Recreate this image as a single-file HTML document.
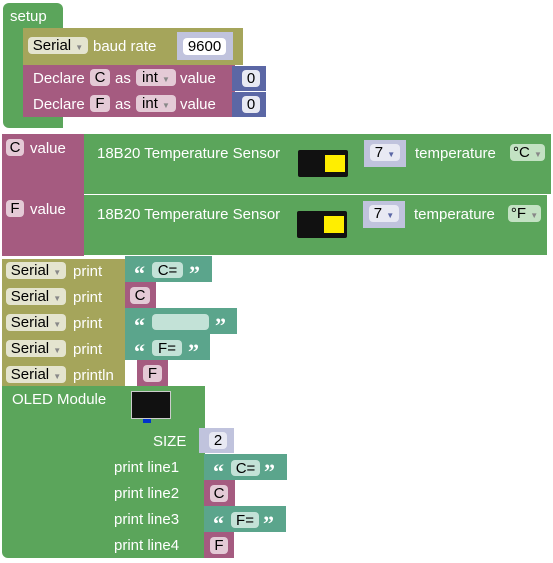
<!DOCTYPE html>
<html><head><meta charset="utf-8"><style>
body{margin:0;width:553px;height:563px;background:#fff;position:relative;overflow:hidden;font-family:"Liberation Sans",sans-serif;font-size:15px;color:#fff}
div{position:absolute;box-sizing:border-box}
.g{background:#5ba55b}.o{background:#a5a55b}.m{background:#a55b80}.n{background:#5b67a5}.t{background:#5ba58c}.ln{background:#c0c3dd}
.tx{white-space:nowrap;line-height:16px;margin-top:2px}
.q{font-family:"Liberation Serif",serif;font-size:22px;font-weight:bold;line-height:16px;white-space:nowrap}
.f{border-radius:4px;color:#000;line-height:17px;text-align:center;white-space:nowrap}
.fo{background:#e4e4cf}.fm{background:#e4cad6}.fw{background:#fff}.ft{background:#c3e2d7}.fg{background:#c3e2c3}.fn{background:#e8e9f3}
.dd{font-size:8px;color:#888}
.sensor{background:#111;border-radius:2px}
.sensor::after{content:"";position:absolute;right:3px;top:5px;width:20px;height:17px;background:#ffee00}
</style></head><body>
<!-- setup -->
<div class="g" style="left:3px;top:3px;width:60px;height:26px;border-radius:6px 6px 0 0"></div>
<div class="g" style="left:3px;top:28px;width:20px;height:92px"></div>
<div class="g" style="left:3px;top:117px;width:60px;height:11px;border-radius:0 0 0 6px"></div>
<div class="tx" style="left:10px;top:7px">setup</div>
<!-- serial baud -->
<div class="o" style="left:23px;top:28px;width:220px;height:37px"></div>
<div class="f fo" style="left:28px;top:37px;width:60px;height:17px">Serial <span class="dd">▼</span></div>
<div class="tx" style="left:93px;top:37px">baud rate</div>
<div class="ln" style="left:177px;top:32px;width:56px;height:28px"></div>
<div class="f fw" style="left:183px;top:38px;width:43px;height:17px">9600</div>
<!-- declares -->
<div class="m" style="left:23px;top:65px;width:212px;height:26px"></div>
<div class="m" style="left:23px;top:91px;width:212px;height:26px"></div>
<div class="tx" style="left:33px;top:69px">Declare</div>
<div class="f fm" style="left:90px;top:69px;width:20px;height:17px">C</div>
<div class="tx" style="left:115px;top:69px">as</div>
<div class="f fm" style="left:136px;top:69px;width:40px;height:17px">int <span class="dd">▼</span></div>
<div class="tx" style="left:180px;top:69px">value</div>
<div class="n" style="left:232px;top:66px;width:34px;height:25px"></div>
<div class="f fn" style="left:242px;top:70px;width:18px;height:17px">0</div>
<div class="tx" style="left:33px;top:95px">Declare</div>
<div class="f fm" style="left:90px;top:95px;width:20px;height:17px">F</div>
<div class="tx" style="left:115px;top:95px">as</div>
<div class="f fm" style="left:136px;top:95px;width:40px;height:17px">int <span class="dd">▼</span></div>
<div class="tx" style="left:180px;top:95px">value</div>
<div class="n" style="left:232px;top:92px;width:34px;height:25px"></div>
<div class="f fn" style="left:242px;top:96px;width:18px;height:17px">0</div>
<!-- C value -->
<div class="m" style="left:2px;top:134px;width:82px;height:61px"></div>
<div class="g" style="left:84px;top:134px;width:467px;height:60px"></div>
<div class="f fm" style="left:6px;top:139px;width:18px;height:17px">C</div>
<div class="tx" style="left:30px;top:139px">value</div>
<div class="tx" style="left:97px;top:144px">18B20 Temperature Sensor</div>
<div class="sensor" style="left:298px;top:150px;width:50px;height:27px"></div>
<div class="ln" style="left:364px;top:140px;width:42px;height:27px"></div>
<div class="f fn" style="left:370px;top:144px;width:30px;height:17px">7 <span class="dd" style="color:#5b67a5">▼</span></div>
<div class="tx" style="left:415px;top:144px">temperature</div>
<div class="f fg" style="left:510px;top:144px;width:35px;height:17px">°C <span class="dd">▼</span></div>
<!-- F value -->
<div class="m" style="left:2px;top:195px;width:82px;height:61px"></div>
<div class="g" style="left:84px;top:195px;width:463px;height:60px"></div>
<div class="f fm" style="left:6px;top:200px;width:18px;height:17px">F</div>
<div class="tx" style="left:30px;top:200px">value</div>
<div class="tx" style="left:97px;top:205px">18B20 Temperature Sensor</div>
<div class="sensor" style="left:297px;top:211px;width:50px;height:27px"></div>
<div class="ln" style="left:363px;top:201px;width:42px;height:27px"></div>
<div class="f fn" style="left:369px;top:205px;width:30px;height:17px">7 <span class="dd" style="color:#5b67a5">▼</span></div>
<div class="tx" style="left:414px;top:205px">temperature</div>
<div class="f fg" style="left:508px;top:205px;width:33px;height:17px">°F <span class="dd">▼</span></div>
<!-- serial prints -->
<div class="o" style="left:2px;top:259px;width:123px;height:130px"></div>
<div class="f fo" style="left:6px;top:262px;width:60px;height:17px">Serial <span class="dd">▼</span></div><div class="tx" style="left:73px;top:262px">print</div>
<div class="f fo" style="left:6px;top:288px;width:60px;height:17px">Serial <span class="dd">▼</span></div><div class="tx" style="left:73px;top:288px">print</div>
<div class="f fo" style="left:6px;top:314px;width:60px;height:17px">Serial <span class="dd">▼</span></div><div class="tx" style="left:73px;top:314px">print</div>
<div class="f fo" style="left:6px;top:340px;width:60px;height:17px">Serial <span class="dd">▼</span></div><div class="tx" style="left:73px;top:340px">print</div>
<div class="f fo" style="left:6px;top:366px;width:60px;height:17px">Serial <span class="dd">▼</span></div><div class="tx" style="left:73px;top:366px">println</div>
<div class="t" style="left:125px;top:256px;width:87px;height:26px"></div>
<div class="q" style="left:134px;top:266px">“</div><div class="f ft" style="left:152px;top:262px;width:31px;height:16px">C=</div><div class="q" style="left:189px;top:266px">”</div>
<div class="m" style="left:125px;top:282px;width:31px;height:26px"></div>
<div class="f fm" style="left:130px;top:287px;width:20px;height:17px">C</div>
<div class="t" style="left:125px;top:308px;width:112px;height:26px"></div>
<div class="q" style="left:134px;top:318px">“</div><div class="f ft" style="left:152px;top:314px;width:57px;height:16px"></div><div class="q" style="left:215px;top:318px">”</div>
<div class="t" style="left:125px;top:334px;width:85px;height:26px"></div>
<div class="q" style="left:134px;top:344px">“</div><div class="f ft" style="left:152px;top:340px;width:30px;height:16px">F=</div><div class="q" style="left:188px;top:344px">”</div>
<div class="m" style="left:137px;top:360px;width:31px;height:26px"></div>
<div class="f fm" style="left:143px;top:365px;width:19px;height:17px">F</div>
<!-- OLED -->
<div class="g" style="left:2px;top:386px;width:203px;height:172px;border-radius:0 0 0 6px"></div>
<div class="tx" style="left:12px;top:390px">OLED Module</div>
<div style="left:131px;top:391px;width:40px;height:28px;background:#111;border:1px solid #ccc"></div>
<div style="left:143px;top:419px;width:8px;height:4px;background:#0033cc"></div>
<div class="tx" style="left:153px;top:432px">SIZE</div>
<div class="ln" style="left:199px;top:428px;width:35px;height:25px"></div>
<div class="f fn" style="left:209px;top:432px;width:18px;height:17px">2</div>
<div class="tx" style="left:114px;top:458px">print line1</div>
<div class="tx" style="left:114px;top:484px">print line2</div>
<div class="tx" style="left:114px;top:510px">print line3</div>
<div class="tx" style="left:114px;top:536px">print line4</div>
<div class="t" style="left:204px;top:454px;width:83px;height:26px"></div>
<div class="q" style="left:213px;top:464px">“</div><div class="f ft" style="left:231px;top:460px;width:29px;height:16px">C=</div><div class="q" style="left:264px;top:464px">”</div>
<div class="m" style="left:204px;top:480px;width:31px;height:26px"></div>
<div class="f fm" style="left:210px;top:485px;width:18px;height:17px">C</div>
<div class="t" style="left:204px;top:506px;width:82px;height:26px"></div>
<div class="q" style="left:213px;top:516px">“</div><div class="f ft" style="left:231px;top:512px;width:28px;height:16px">F=</div><div class="q" style="left:263px;top:516px">”</div>
<div class="m" style="left:204px;top:532px;width:30px;height:26px"></div>
<div class="f fm" style="left:210px;top:537px;width:18px;height:17px">F</div>
</body></html>
